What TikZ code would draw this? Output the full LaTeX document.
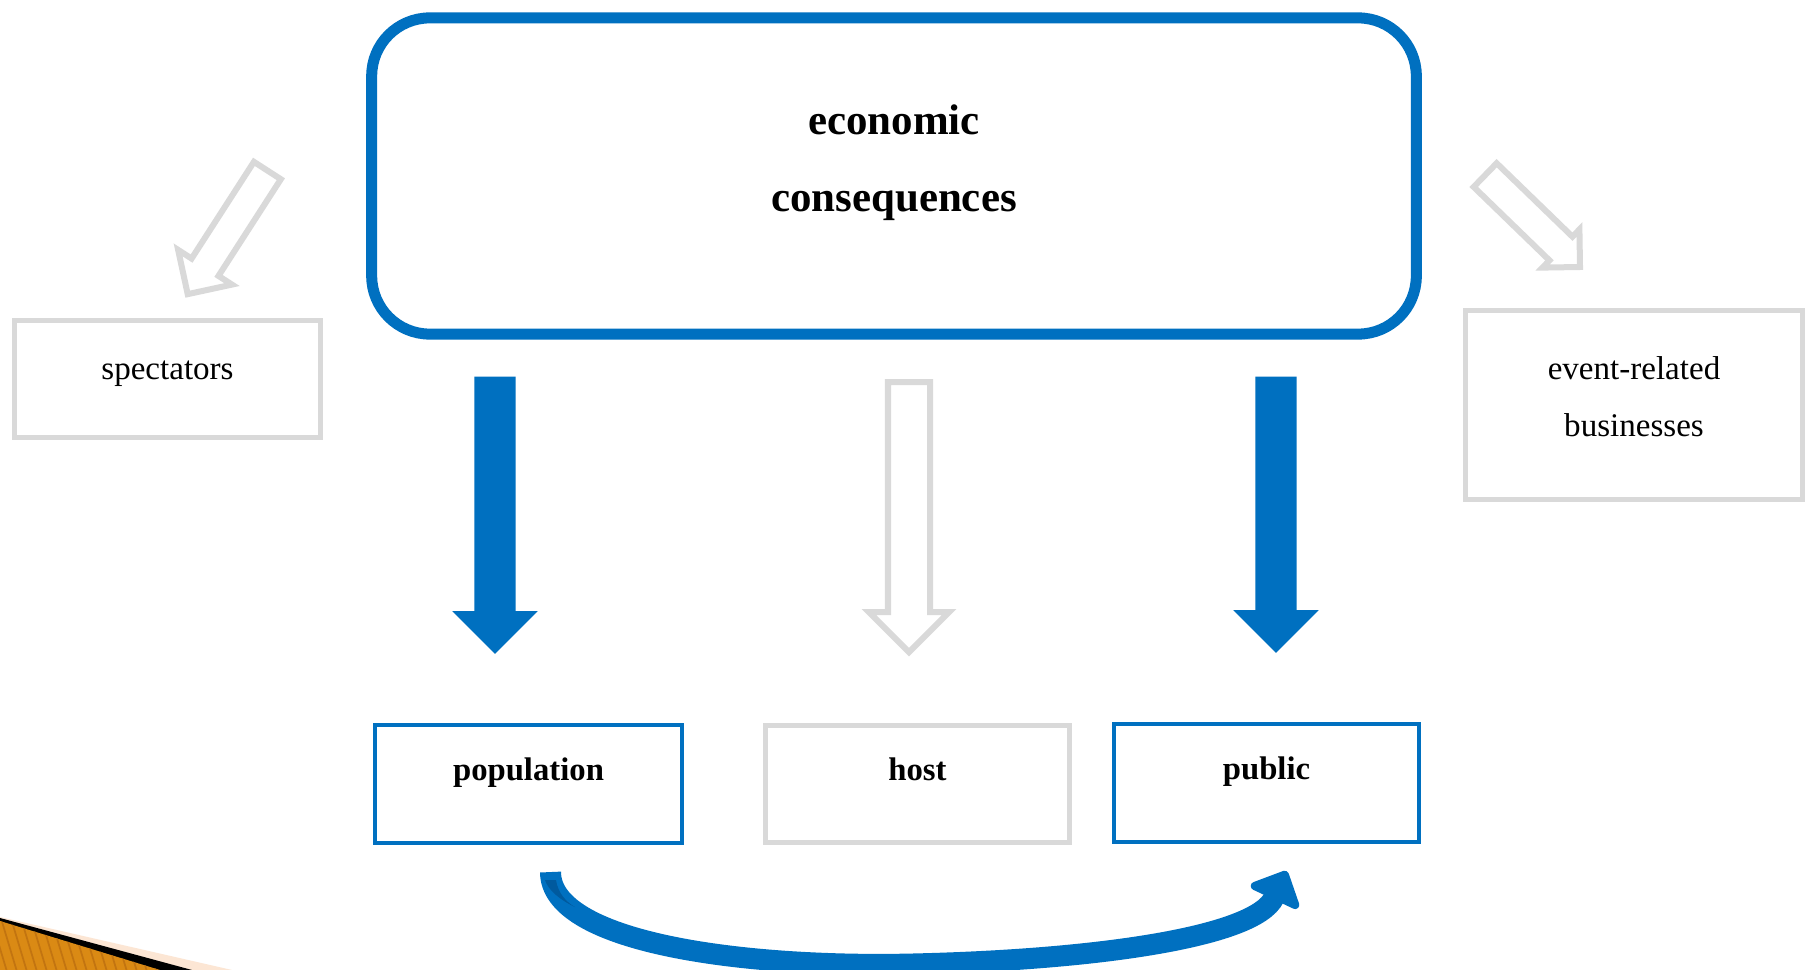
\documentclass[tikz,border=0pt]{standalone}
\usepackage{fontspec}
\setmainfont{Liberation Serif}
\usetikzlibrary{arrows.meta,shapes.arrows}

\definecolor{azul}{HTML}{0070C0}
\definecolor{azuloscuro}{HTML}{005A9E}
\definecolor{gris}{HTML}{D9D9D9}
\definecolor{naranja}{HTML}{DA8A14}
\definecolor{naranjaosc}{HTML}{C27410}
\definecolor{durazno}{HTML}{FCE6D4}

\tikzset{
  caja/.style={rectangle,inner sep=0pt,align=center},
  cajagris/.style={caja,draw=gris,line width=0.05cm,font=\fontsize{9.4}{16.2}\selectfont},
  cajaazul/.style={caja,draw=azul,line width=0.04cm},
  negrita/.style={font=\fontsize{9.3}{11}\selectfont\bfseries,text height=6.3pt,text depth=8.3pt},
  flecha/.style={single arrow,inner xsep=0pt,inner ysep=0.2cm,minimum width=1pt,
    single arrow head extend=0.22cm,single arrow tip angle=90,anchor=tail},
  flechaazul/.style={flecha,fill=azul,draw=none},
  flechagris/.style={flecha,draw=gris,line width=0.06cm,fill=white},
  curva/.style={draw=azul,line width=0.21cm,-{Triangle[length=0.33cm,width=0.62cm,round]}}
}

\begin{document}
\begin{tikzpicture}[x=0.01cm,y=-0.01cm]
%fondo y tamano de la hoja
\fill[white] (0,0) rectangle (1812,970);
\useasboundingbox (0,0) rectangle (1812,970);

%caja principal
\node[draw=azul,line width=0.11cm,rounded corners=0.58cm,rectangle,
  minimum width=10.44cm,minimum height=3.16cm,align=center,
  font=\fontsize{12.2}{21.9}\selectfont\bfseries,text depth=10.3pt] (econ) at (894,176)
  {economic\\consequences};

%cajas de los lados
\node[cajagris,minimum width=3.06cm,minimum height=1.17cm,
  text height=5.5pt,text depth=5.5pt] (spec) at (167.5,379) {spectators};
\node[cajagris,minimum width=3.37cm,minimum height=1.89cm,text depth=5pt] (event) at (1634,405)
  {event-related\\businesses};

%cajas de abajo
\node[cajaazul,negrita,minimum width=3.07cm,minimum height=1.18cm] (pop) at (528.5,784) {population};
\node[caja,draw=gris,line width=0.05cm,negrita,minimum width=3.04cm,minimum height=1.17cm] (host) at (917.5,784) {host};
\node[cajaazul,negrita,minimum width=3.05cm,minimum height=1.18cm] (pub) at (1266.5,783) {public};

%flechas hacia abajo
\node[flechaazul,minimum height=2.77cm,rotate=-90] (fpop) at (495,376) {};
\node[flechagris,minimum height=2.70cm,rotate=-90,inner ysep=0.18cm,
  single arrow head extend=0.19cm] (fhost) at (909,379) {};
\node[flechaazul,minimum height=2.76cm,rotate=-90] (fpub) at (1276,376) {};

%flechas diagonales
\node[flechagris,minimum height=1.47cm,rotate=-122.8,inner ysep=0.13cm,
  single arrow head extend=0.16cm] (fspec) at (269,168) {};
\node[flechagris,minimum height=1.32cm,rotate=-44.1,inner ysep=0.135cm,
  single arrow head extend=0.1cm] (fevent) at (1483,173) {};

%flecha curva de population a public
\coordinate (ini) at ([xshift=0.22cm,yshift=-0.27cm]pop.south);
\coordinate (fin) at ([xshift=0.2cm,yshift=-0.27cm]pub.south);
\draw[curva] (ini) .. controls +(0,70) and (740,968) .. (913,964)
  .. controls (1090,960) and (1255,938) .. (fin);
\fill[azuloscuro] (545,880) -- (556,880) .. controls (558,893) and (566,902) .. (575,907)
  .. controls (560,900) and (548,890) .. cycle;

%esquina naranja
\fill[durazno] (0,917) -- (232,970) -- (0,970) -- cycle;
\fill[black] (0,918) -- (192,970) -- (0,970) -- cycle;
\begin{scope}
\clip (0,921) -- (160,970) -- (0,970) -- cycle;
\fill[naranja] (0,900) rectangle (200,970);
\foreach \x in {-40,-30,...,170}
  \draw[naranjaosc,line width=0.5pt] (\x,915) -- (\x+18,975);
\end{scope}
\end{tikzpicture}
\end{document}
